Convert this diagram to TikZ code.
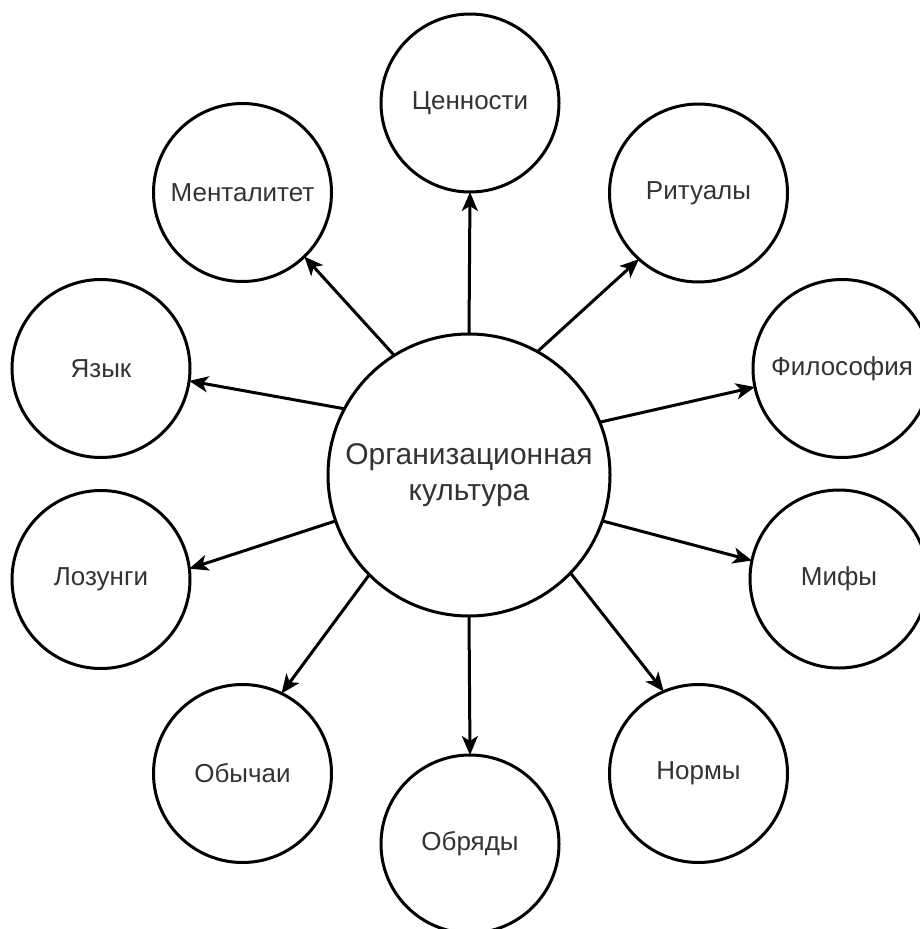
\documentclass[tikz,border=0pt]{standalone}
\usepackage{fontspec}
\setmainfont{Liberation Sans}
\usetikzlibrary{arrows.meta}
\begin{document}
\begin{tikzpicture}[x=1pt,y=-1pt,
 bubble/.style={circle,draw=black,line width=3pt,minimum size=178pt,inner sep=0pt,outer sep=0pt,text=black!80,font=\fontsize{26}{30}\selectfont},
 hub/.style={bubble,minimum size=282pt,font=\fontsize{30}{36}\selectfont,align=center},
 link/.style={line width=3pt,-{Stealth[length=19pt,width=16pt,inset=5pt]}}]
\useasboundingbox (0,0) rectangle (919,929);
\node[hub] (C) at (469,475) {Организационная\\культура};
\node[bubble] (cen) at (470,103) {Ценности};
\node[bubble] (rit) at (698.5,193) {Ритуалы};
\node[bubble] (fil) at (842,368.5) {Философия};
\node[bubble] (mif) at (839,579) {Мифы};
\node[bubble] (nor) at (698.5,773.5) {Нормы};
\node[bubble] (obr) at (470,844) {Обряды};
\node[bubble] (oby) at (242.5,773.5) {Обычаи};
\node[bubble] (loz) at (101,579.5) {Лозунги};
\node[bubble] (yaz) at (101,368.5) {Язык};
\node[bubble] (men) at (242.5,192.5) {Менталитет};
\draw[link] (C.90) -- (cen.270);
\draw[link] (C.61.8) -- (rit.228.9);
\draw[link] (C.22.3) -- (fil.192.4);
\draw[link] (C.341.2) -- (mif.168.2);
\draw[link] (C.316.7) -- (nor.113);
\draw[link] (C.270) -- (obr.90);
\draw[link] (C.225.3) -- (oby.64.7);
\draw[link] (C.199.5) -- (loz.7.8);
\draw[link] (C.152) -- (yaz.352.6);
\draw[link] (C.122.7) -- (men.314.1);
\end{tikzpicture}
\end{document}
